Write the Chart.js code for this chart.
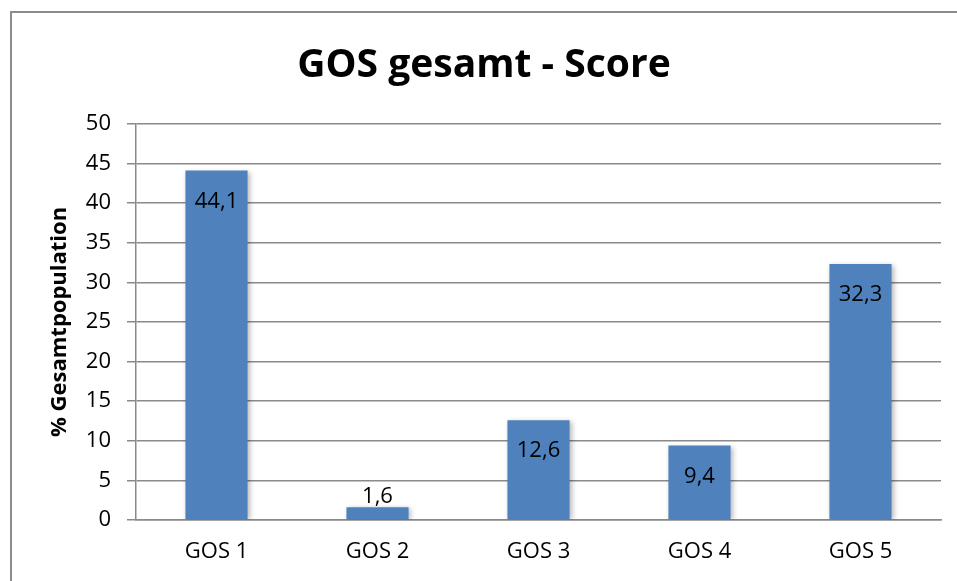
<!DOCTYPE html>
<html>
<head>
<meta charset="utf-8">
<script src="https://cdn.jsdelivr.net/npm/chart.js@4/dist/chart.umd.min.js"></script>
<style>
html,body{margin:0;padding:0;background:#fff;}
#wrap{width:957px;height:581px;position:relative;}
</style>
</head>
<body>
<div id="wrap"><canvas id="c" width="957" height="581"></canvas></div>
<script>
const categories = ["GOS 1", "GOS 2", "GOS 3", "GOS 4", "GOS 5"];
const values = [44.1, 1.6, 12.6, 9.4, 32.3];
const labels = ["44,1", "1,6", "12,6", "9,4", "32,3"];
const chartTitle = "GOS gesamt - Score";
const yTitle = "% Gesamtpopulation";

const FONT = "'Open Sans', sans-serif";

const framePlugin = {
  id: 'frame',
  beforeDraw(chart) {
    const ctx = chart.ctx;
    ctx.save();
    ctx.strokeStyle = '#8c8c8c';
    ctx.lineWidth = 2;
    ctx.beginPath();
    ctx.moveTo(11, 581);
    ctx.lineTo(11, 12);
    ctx.lineTo(957, 12);
    ctx.stroke();
    ctx.restore();
  }
};

const shadowPlugin = {
  id: 'barShadow',
  beforeDatasetsDraw(chart) {
    const ctx = chart.ctx;
    ctx.save();
    ctx.shadowColor = 'rgba(0,0,0,0.28)';
    ctx.shadowBlur = 5;
    ctx.shadowOffsetX = 2;
    ctx.shadowOffsetY = 1;
  },
  afterDatasetsDraw(chart) {
    chart.ctx.restore();
  }
};

const labelPlugin = {
  id: 'valueLabels',
  afterDatasetsDraw(chart) {
    const ctx = chart.ctx;
    const meta = chart.getDatasetMeta(0);
    ctx.save();
    ctx.font = "22px " + FONT;
    ctx.fillStyle = '#000';
    ctx.textAlign = 'center';
    ctx.textBaseline = 'middle';
    meta.data.forEach((bar, i) => {
      const h = bar.base - bar.y;
      let y = h > 50 ? bar.y + 31 : bar.y - 11;
      ctx.fillText(labels[i], bar.x, y);
    });
    ctx.restore();
  }
};

new Chart(document.getElementById('c'), {
  type: 'bar',
  data: {
    labels: categories,
    datasets: [{
      data: values,
      backgroundColor: '#4F81BD',
      borderWidth: 0,
      categoryPercentage: 1,
      barPercentage: 0.386
    }]
  },
  options: {
    responsive: false,
    animation: false,
    devicePixelRatio: 1,
    layout: { padding: { left: 27, right: 16, top: 0, bottom: 0 } },
    plugins: {
      legend: { display: false },
      tooltip: { enabled: false },
      title: {
        display: true,
        text: chartTitle,
        color: '#000',
        font: { family: FONT, size: 39, weight: 'bold', lineHeight: 1.2 },
        padding: { top: 42, bottom: 35 }
      }
    },
    scales: {
      x: {
        grid: { display: false, drawTicks: false },
        border: { display: true, color: '#8a8a8a', width: 1.5 },
        ticks: { color: '#000', font: { family: FONT, size: 22 }, padding: 19 },
        afterFit(s) { s.height = 61; }
      },
      y: {
        min: 0, max: 50,
        ticks: { stepSize: 5, color: '#000', font: { family: FONT, size: 22 }, padding: 16 },
        grid: { color: '#8a8a8a', lineWidth: 1.5, drawTicks: true, tickLength: 9, tickColor: '#8a8a8a' },
        border: { display: true, color: '#8a8a8a', width: 1.5 },
        title: {
          display: true,
          text: yTitle,
          color: '#000',
          font: { family: FONT, size: 22, weight: 'bold', lineHeight: 1.2 },
          padding: { top: 20, bottom: 0 }
        },
        afterFit(s) { s.width = 109; }
      }
    }
  },
  plugins: [framePlugin, shadowPlugin, labelPlugin]
});
</script>
</body>
</html>
